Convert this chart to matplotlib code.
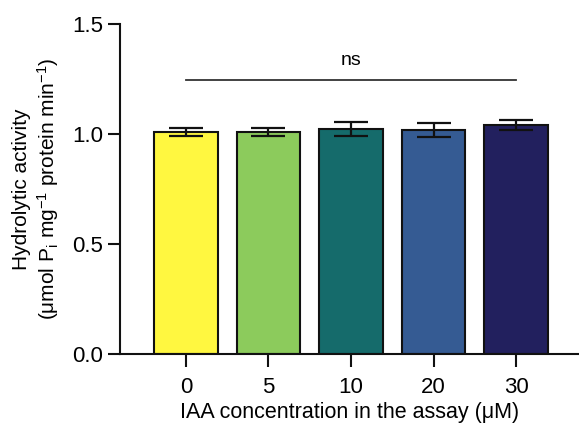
import matplotlib
matplotlib.use("Agg")
import matplotlib.pyplot as plt

plt.rcParams['font.family'] = ['Liberation Sans', 'DejaVu Sans']
plt.rcParams['mathtext.fontset'] = 'custom'
plt.rcParams['mathtext.rm'] = 'Liberation Sans'
plt.rcParams['mathtext.it'] = 'Liberation Sans'

concentrations = ["0", "5", "10", "20", "30"]
activity = [1.009, 1.009, 1.024, 1.019, 1.041]
errors = [0.020, 0.018, 0.032, 0.033, 0.021]
colors = ["#FFF740", "#8CCB5C", "#156B6B", "#355B93", "#22205E"]
ns_level = 1.243

fig = plt.figure(figsize=(5.79, 4.26), dpi=100)
ax = fig.add_axes([0.207, 0.168, 0.793, 0.776])

x = range(len(concentrations))
ax.bar(x, activity, width=0.77, color=colors, edgecolor="#111111", linewidth=1.5, zorder=2)
ax.errorbar(x, activity, yerr=errors, fmt="none", ecolor="#111111",
            elinewidth=1.6, capsize=12.5, capthick=1.6, zorder=3)

ax.plot([0, 4], [ns_level, ns_level], color="#333333", linewidth=1.3)
ax.text(2, ns_level + 0.09, "ns", ha="center", va="center", fontsize=14)

ax.set_xlim(-0.8, 4.76)
ax.set_ylim(0, 1.5)
ax.set_yticks([0.0, 0.5, 1.0, 1.5])
ax.set_yticklabels(["0.0", "0.5", "1.0", "1.5"])
ax.set_xticks(list(x))
ax.set_xticklabels(concentrations)

for s in ["top", "right"]:
    ax.spines[s].set_visible(False)
for s in ["left", "bottom"]:
    ax.spines[s].set_linewidth(1.5)
    ax.spines[s].set_color("#111111")

ax.tick_params(axis="both", length=9, width=1.5, labelsize=16, color="#111111", pad=3)
ax.tick_params(axis="x", pad=7)

ax.set_xlabel("IAA concentration in the assay (\u03bcM)", fontsize=15.5, labelpad=3)
ax.set_ylabel("Hydrolytic activity\n(\u03bcmol P$_\\mathrm{i}$ mg$^{-1}$ protein min$^{-1}$)",
              fontsize=15, labelpad=8)

fig.savefig("out.png", dpi=100)
